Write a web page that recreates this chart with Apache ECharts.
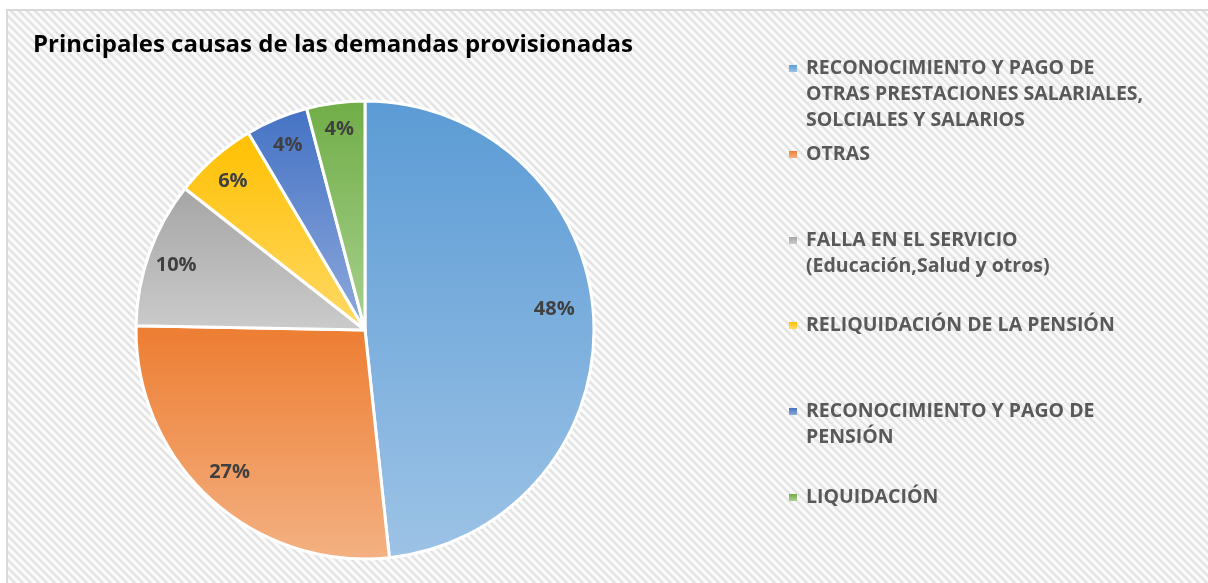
<!DOCTYPE html>
<html>
<head>
<meta charset="utf-8">
<script src="https://cdn.jsdelivr.net/npm/echarts@6/dist/echarts.min.js"></script>
<style>
    html, body { margin: 0; padding: 0; background: #fff; }
    #chart { width: 1208px; height: 583px; }
</style>
</head>
<body>
<div id="chart"></div>
<script>
// Causes of provisioned lawsuits, share of total (%)
const categories = [
    'RECONOCIMIENTO Y PAGO DE OTRAS PRESTACIONES SALARIALES, SOLCIALES Y SALARIOS',
    'OTRAS',
    'FALLA EN EL SERVICIO (Educación,Salud y otros)',
    'RELIQUIDACIÓN DE LA PENSIÓN',
    'RECONOCIMIENTO Y PAGO DE PENSIÓN',
    'LIQUIDACIÓN'
];
const shares = [48.3, 27.0, 10.3, 5.9, 4.4, 4.1];
// legend text as wrapped in the original
const legendLabels = [
    'RECONOCIMIENTO Y PAGO DE\nOTRAS PRESTACIONES SALARIALES,\nSOLCIALES Y SALARIOS',
    'OTRAS',
    'FALLA EN EL SERVICIO\n(Educación,Salud y otros)',
    'RELIQUIDACIÓN DE LA PENSIÓN',
    'RECONOCIMIENTO Y PAGO DE\nPENSIÓN',
    'LIQUIDACIÓN'
];
const topColors = ['#5b9bd5', '#ed7d31', '#a5a5a5', '#ffc000', '#4472c4', '#70ad47'];
const bottomColors = ['#9dc3e6', '#f4b183', '#cbcbcb', '#ffd966', '#8faadc', '#a9d18e'];

const FONT = '"Open Sans", "Noto Sans", sans-serif';
const LINE_H = 26;

// diagonal hatch used behind the chart (Office "light downward diagonal")
function hatchPattern() {
    const n = 8;
    const canvas = document.createElement('canvas');
    canvas.width = canvas.height = n;
    const ctx = canvas.getContext('2d');
    const img = ctx.createImageData(n, n);
    for (let y = 0; y < n; y++) {
        for (let x = 0; x < n; x++) {
            const t = ((x - y) % n + n) % n;
            const d = Math.min(t, n - t) / (n / 2);
            const v = Math.round(222 + 30 * Math.min(1, d * 1.3));
            const i = (y * n + x) * 4;
            img.data[i] = img.data[i + 1] = img.data[i + 2] = v;
            img.data[i + 3] = 255;
        }
    }
    ctx.putImageData(img, 0, 0);
    return canvas;
}

function sliceGradient(i) {
    return {
        type: 'linear', x: 0, y: 0, x2: 0, y2: 1,
        colorStops: [
            { offset: 0, color: topColors[i] },
            { offset: 1, color: bottomColors[i] }
        ]
    };
}

const pieData = categories.map((name, i) => ({
    name,
    value: shares[i],
    itemStyle: { color: sliceGradient(i) }
}));

// Excel's best-fit label placement, small nudges per slice
const labelNudge = [[-11, -10], [0, -6], [0, 3], [0, 2], [0, 0], [0, -2]];

// legend drawn as graphic: Excel keeps the marker on the first text line
// and spaces the rows evenly
const rowCenters = [68, 154, 240, 325, 411, 497];
const legendItems = [];
categories.forEach((name, i) => {
    legendItems.push({
        type: 'rect',
        silent: true,
        shape: { x: 789, y: rowCenters[i] - 3, width: 8, height: 7 },
        style: { fill: sliceGradient(i) }
    }, {
        type: 'text',
        silent: true,
        x: 806,
        y: rowCenters[i] - LINE_H / 2,
        style: {
            text: legendLabels[i],
            fontFamily: FONT,
            fontWeight: 'bold',
            fontSize: 19.5,
            lineHeight: LINE_H,
            fill: '#595959',
            verticalAlign: 'top'
        }
    });
});

const chart = echarts.init(document.getElementById('chart'), null, { renderer: 'canvas' });
chart.setOption({
    backgroundColor: '#ffffff',
    animation: false,
    textStyle: { fontFamily: FONT },
    title: {
        text: 'Principales causas de las demandas provisionadas',
        left: 28,
        top: 28,
        textStyle: {
            fontFamily: FONT,
            fontWeight: 'bold',
            fontSize: 24,
            color: '#000000'
        }
    },
    graphic: [{
        type: 'rect',
        z: -10,
        silent: true,
        shape: { x: 7, y: 10, width: 1220, height: 600 },
        style: {
            fill: { image: hatchPattern(), repeat: 'repeat' },
            stroke: '#d9d9d9',
            lineWidth: 2
        }
    }, ...legendItems],
    series: [{
        type: 'pie',
        center: [365, 330],
        radius: 229,
        startAngle: 90,
        clockwise: true,
        silent: true,
        data: pieData,
        itemStyle: { borderColor: '#ffffff', borderWidth: 3 },
        label: { show: false },
        labelLine: { show: false }
    }, {
        // transparent ring only to place the percentage labels near the rim
        type: 'pie',
        center: [365, 330],
        radius: [166, 229],
        startAngle: 90,
        clockwise: true,
        silent: true,
        data: categories.map((name, i) => ({
            name,
            value: shares[i],
            label: { offset: labelNudge[i] }
        })),
        itemStyle: { color: 'rgba(0,0,0,0)', borderWidth: 0 },
        label: {
            show: true,
            position: 'inside',
            formatter: p => Math.round(p.percent) + '%',
            fontFamily: FONT,
            fontWeight: 'bold',
            fontSize: 20,
            color: '#404040'
        },
        labelLine: { show: false },
        emphasis: { disabled: true }
    }]
});
</script>
</body>
</html>
